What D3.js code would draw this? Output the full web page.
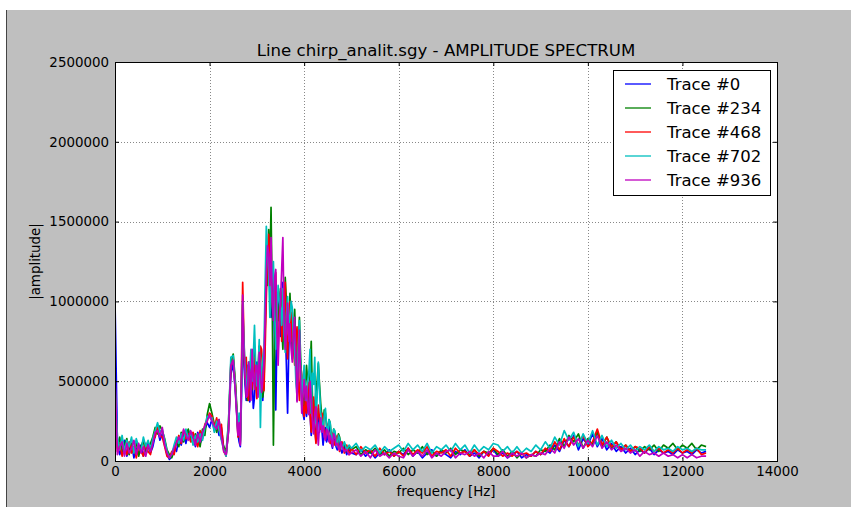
<!DOCTYPE html>
<html>
<head>
<meta charset="utf-8">
<script src="https://cdn.jsdelivr.net/npm/d3@7"></script>
<style>
  body { margin: 0; background: #fff; }
  svg { display: block; font-family: 'DejaVu Sans', sans-serif; }
</style>
</head>
<body>
<script>
// sampling grid of the spectrum, Hz (finer around the main peak)
const freq = [
  0, 50, 100, 150, 200, 250, 300, 350, 400, 450, 500, 550, 600, 650, 700, 750, 800, 850, 900, 950, 1000,
  1050, 1100, 1150, 1200, 1250, 1300, 1350, 1400, 1450, 1500, 1550, 1600, 1650, 1700, 1750, 1800, 1850, 1900, 1950, 2000,
  2050, 2100, 2150, 2200, 2250, 2300, 2350, 2400, 2450, 2500, 2550,
  2600, 2625, 2650, 2675, 2700, 2725, 2750, 2775, 2800, 2825,
  2850, 2875, 2900, 2925, 2950, 2975, 3000, 3025, 3050, 3075,
  3100, 3125, 3150, 3175, 3200, 3225, 3250, 3275, 3300, 3325,
  3350, 3375, 3400, 3425, 3450, 3475, 3500, 3525, 3550, 3575,
  3600, 3625, 3650, 3675, 3700, 3725, 3750, 3775, 3800, 3825,
  3850, 3875, 3900, 3925, 3950, 3975, 4000, 4025, 4050, 4075,
  4100, 4125, 4150, 4175, 4200, 4225, 4250, 4275, 4300, 4325,
  4350, 4375, 4400, 4425, 4450, 4475, 4500, 4525, 4550, 4575,
  4600, 4625, 4650, 4675, 4700, 4725, 4750, 4775, 4800,
  4850, 4900, 4950, 5000,
  5100, 5200, 5300, 5400, 5500, 5600, 5700, 5800, 5900, 6000,
  6100, 6200, 6300, 6400, 6500, 6600, 6700, 6800, 6900, 7000,
  7100, 7200, 7300, 7400, 7500, 7600, 7700, 7800, 7900, 8000,
  8100, 8200, 8300, 8400, 8500, 8600, 8700, 8800, 8900, 9000,
  9100, 9200, 9300, 9400, 9500, 9600, 9700, 9800, 9900, 10000,
  10100, 10200, 10300, 10400, 10500, 10600, 10700, 10800, 10900, 11000,
  11100, 11200, 11300, 11400, 11500, 11600, 11700, 11800, 11900, 12000,
  12100, 12200, 12300, 12400, 12500
]

// amplitudes in thousands
const trace0 = [
  1000, 120, 40, 90, 130, 30, 70, 110, 20, 80, 40, 100, 30, 70, 120, 50, 90, 160, 200, 130, 170,
  110, 40, 10, 30, 90, 60, 140, 100, 170, 110, 190, 130, 160, 90, 180, 110, 150, 200, 240, 210,
  260, 190, 240, 160, 210, 80, 40, 180, 540, 610, 420,
  170, 120, 90, 400, 900, 620, 480, 380, 600, 450,
  370, 560, 520, 330, 400, 580, 620, 420, 650, 520,
  480, 380, 560, 820, 1100, 1250, 1380, 1050, 900, 1000,
  1150, 700, 320, 800, 1050, 900, 780, 950, 1120, 1000,
  870, 600, 300, 700, 980, 800, 640, 850, 900, 600,
  380, 650, 810, 560, 420, 300, 260, 420, 280, 350,
  470, 300, 160, 250, 380, 220, 120, 240, 330, 180,
  260, 200, 100, 170, 210, 120, 150, 220, 190, 110,
  80, 150, 140, 90, 70, 130, 110, 70, 50,
  90, 40, 70, 50,
  40, 70, 30, 60, 20, 50, 40, 70, 30, 60,
  40, 80, 30, 60, 20, 50, 70, 30, 60, 40,
  20, 60, 40, 70, 30, 50, 20, 60, 40, 70,
  30, 50, 20, 40, 60, 20, 40, 30, 60, 40,
  70, 50, 100, 60, 130, 90, 160, 70, 140, 100,
  170, 90, 140, 70, 110, 60, 90, 50, 80, 40,
  70, 50, 80, 40, 70, 50, 60, 40, 70, 50,
  60, 40, 70, 50, 60
]
const trace234 = [
  450, 80, 150, 50, 100, 140, 40, 110, 60, 120, 30, 90, 130, 40, 80, 110, 150, 210, 170, 220, 190,
  140, 70, 40, 20, 60, 130, 90, 180, 120, 160, 200, 140, 110, 170, 120, 90, 200, 160, 290, 360,
  300, 230, 180, 260, 140, 90, 60, 240, 610, 670, 480,
  200, 150, 130, 500, 980, 700, 560, 420, 380, 500,
  620, 480, 450, 600, 700, 520, 420, 580, 720, 600,
  520, 400, 460, 900, 1250, 1100, 1450, 1200, 1590, 1000,
  100, 700, 1100, 950, 880, 1000, 1080, 850, 700, 900,
  1150, 1000, 920, 780, 1050, 850, 700, 820, 950, 700,
  420, 700, 900, 650, 480, 400, 320, 450, 600, 500,
  330, 550, 750, 400, 220, 350, 440, 500, 610, 480,
  360, 280, 210, 320, 300, 220, 190, 260, 240, 150,
  120, 200, 180, 130, 100, 170, 150, 110, 90,
  110, 60, 90, 70,
  90, 40, 70, 50, 80, 40, 70, 30, 60, 50,
  80, 40, 70, 50, 90, 40, 60, 30, 70, 50,
  80, 40, 70, 60, 40, 70, 30, 60, 50, 80,
  40, 70, 30, 60, 20, 50, 20, 40, 30, 70,
  60, 100, 70, 140, 90, 160, 120, 170, 80, 140,
  100, 180, 90, 150, 80, 120, 70, 100, 60, 90,
  60, 90, 70, 100, 60, 100, 80, 110, 70, 100,
  80, 110, 70, 100, 90
]
const trace468 = [
  420, 60, 110, 30, 80, 40, 120, 50, 90, 20, 100, 60, 30, 110, 60, 40, 130, 150, 220, 160, 150,
  90, 30, 20, 60, 40, 120, 160, 110, 190, 140, 170, 120, 180, 130, 90, 190, 140, 230, 260, 300,
  280, 210, 270, 190, 230, 60, 30, 200, 590, 640, 460,
  150, 280, 110, 600, 1120, 800, 520, 650, 430, 380,
  570, 420, 480, 560, 650, 500, 390, 520, 560, 720,
  700, 520, 440, 700, 1020, 1300, 1420, 1250, 1150, 1000,
  900, 1050, 1180, 850, 700, 900, 1060, 750, 880, 1000,
  1120, 800, 640, 900, 1000, 750, 930, 700, 600, 750,
  840, 500, 380, 600, 540, 350, 280, 380, 300, 420,
  490, 300, 180, 300, 400, 200, 110, 250, 350, 260,
  200, 300, 280, 180, 140, 200, 230, 150, 110, 180,
  170, 120, 100, 140, 160, 90, 60, 100, 120,
  50, 100, 40, 80,
  40, 90, 50, 70, 30, 80, 40, 60, 30, 60,
  30, 80, 40, 70, 50, 90, 30, 60, 50, 70,
  30, 80, 50, 60, 30, 70, 40, 60, 30, 80,
  60, 30, 50, 30, 60, 40, 50, 30, 60, 40,
  80, 60, 120, 70, 140, 90, 150, 100, 160, 90,
  120, 200, 100, 150, 90, 120, 70, 100, 60, 90,
  80, 50, 90, 60, 80, 50, 70, 50, 80, 50,
  70, 50, 80, 40, 50
]
const trace702 = [
  480, 150, 70, 160, 60, 130, 90, 150, 50, 140, 90, 60, 150, 90, 130, 70, 140, 190, 240, 180, 200,
  130, 60, 20, 40, 100, 150, 110, 170, 130, 200, 140, 180, 100, 160, 120, 170, 130, 210, 280, 270,
  270, 180, 250, 200, 130, 70, 30, 230, 650, 660, 440,
  190, 300, 120, 450, 1000, 750, 600, 500, 450, 620,
  560, 700, 500, 650, 850, 600, 470, 550, 760, 210,
  550, 650, 700, 1100, 1470, 1300, 1200, 900, 1060, 1150,
  1250, 950, 700, 900, 1100, 1000, 960, 850, 1080, 800,
  680, 900, 1030, 850, 900, 1000, 960, 750, 700, 500,
  440, 700, 880, 600, 350, 500, 600, 450, 380, 500,
  560, 700, 300, 550, 480, 650, 240, 400, 620, 450,
  300, 250, 180, 280, 330, 220, 170, 260, 240, 150,
  110, 200, 190, 120, 90, 160, 140, 100, 80,
  120, 70, 100, 80,
  110, 60, 90, 70, 100, 50, 90, 60, 80, 100,
  60, 110, 70, 100, 60, 110, 50, 90, 70, 100,
  60, 110, 70, 100, 50, 100, 60, 90, 70, 110,
  100, 60, 90, 50, 90, 50, 80, 60, 100, 70,
  120, 80, 150, 100, 190, 130, 180, 90, 170, 110,
  190, 100, 160, 90, 130, 80, 110, 70, 100, 60,
  90, 70, 100, 60, 90, 70, 80, 60, 90, 70,
  80, 60, 80, 70, 70
]
const trace936 = [
  550, 40, 90, 120, 30, 110, 50, 80, 130, 40, 110, 50, 90, 30, 100, 60, 110, 180, 190, 150, 210,
  100, 50, 20, 40, 80, 110, 150, 120, 200, 160, 130, 190, 150, 100, 170, 120, 180, 220, 250, 290,
  250, 220, 200, 260, 150, 60, 40, 190, 600, 630, 410,
  160, 240, 100, 500, 1040, 700, 540, 400, 410, 620,
  560, 380, 700, 520, 450, 600, 600, 400, 680, 550,
  430, 500, 620, 900, 1180, 1350, 1300, 1100, 1400, 1000,
  880, 1150, 1200, 800, 600, 850, 1000, 1200, 1400, 900,
  700, 800, 990, 750, 860, 700, 620, 800, 900, 650,
  370, 600, 820, 500, 300, 420, 510, 380, 470, 350,
  290, 500, 390, 250, 170, 300, 340, 200, 100, 220,
  270, 180, 220, 150, 130, 200, 190, 120, 160, 130,
  90, 170, 150, 100, 110, 80, 70, 120, 90,
  60, 70, 40, 50,
  70, 30, 60, 20, 70, 30, 50, 20, 50, 30,
  20, 70, 30, 60, 30, 70, 20, 50, 30, 60,
  70, 20, 50, 40, 60, 30, 50, 20, 60, 30,
  30, 60, 20, 50, 30, 50, 20, 40, 30, 50,
  40, 80, 50, 120, 80, 150, 100, 140, 80, 130,
  90, 160, 80, 120, 70, 100, 60, 80, 50, 70,
  30, 60, 40, 50, 30, 50, 30, 40, 20, 40,
  20, 40, 20, 30, 30
]

const traceNames = ['Trace #0', 'Trace #234', 'Trace #468', 'Trace #702', 'Trace #936']
const traceColors = ['#0000ff', '#008000', '#ff0000', '#00bfbf', '#bf00bf']
const xTicks = [0, 2000, 4000, 6000, 8000, 10000, 12000, 14000]
const yTicks = [0, 500000, 1000000, 1500000, 2000000, 2500000]

const W = 851, H = 507
const plot = { left: 115, top: 62, right: 777, bottom: 461 }

const svg = d3.select('body').append('svg')
    .attr('width', W)
    .attr('height', H)

// figure background
svg.append('rect')
    .attr('x', 7).attr('y', 10)
    .attr('width', W - 7).attr('height', H - 10)
    .attr('fill', '#bfbfbf')
svg.append('line')
    .attr('x1', 6.5).attr('x2', 6.5)
    .attr('y1', 10).attr('y2', H)
    .attr('stroke', '#444')

const x = d3.scaleLinear().domain([0, 14000]).range([plot.left, plot.right])
const y = d3.scaleLinear().domain([0, 2500000]).range([plot.bottom, plot.top])

svg.append('rect')
    .attr('x', plot.left).attr('y', plot.top)
    .attr('width', plot.right - plot.left)
    .attr('height', plot.bottom - plot.top)
    .attr('fill', '#fff')

// grid
const grid = svg.append('g')
    .attr('stroke', '#555')
    .attr('stroke-width', 0.7)
    .attr('stroke-dasharray', '1,2')
grid.selectAll('.vx')
    .data(xTicks.slice(1, -1))
    .enter().append('line')
    .attr('x1', d => Math.round(x(d)) + 0.5)
    .attr('x2', d => Math.round(x(d)) + 0.5)
    .attr('y1', plot.top).attr('y2', plot.bottom)
grid.selectAll('.hy')
    .data(yTicks.slice(1, -1))
    .enter().append('line')
    .attr('y1', d => Math.round(y(d)) + 0.5)
    .attr('y2', d => Math.round(y(d)) + 0.5)
    .attr('x1', plot.left).attr('x2', plot.right)

// traces
const traces = [trace0, trace234, trace468, trace702, trace936]
const line = d3.line()
    .x((d, i) => x(freq[i]))
    .y(d => y(d * 1000))

svg.append('clipPath').attr('id', 'clip')
    .append('rect')
    .attr('x', plot.left).attr('y', plot.top)
    .attr('width', plot.right - plot.left)
    .attr('height', plot.bottom - plot.top)

svg.append('g')
    .attr('clip-path', 'url(#clip)')
    .selectAll('path')
    .data(traces)
    .enter().append('path')
    .attr('d', d => line(d))
    .attr('fill', 'none')
    .attr('stroke', (d, i) => traceColors[i])
    .attr('stroke-width', 1.7)
    .attr('stroke-linejoin', 'round')

// axes, ticks pointing inwards like matplotlib classic
function styleAxis(g) {
    g.select('.domain').remove()
    g.selectAll('text')
        .attr('font-family', 'DejaVu Sans')
        .attr('font-size', 13.4)
        .attr('fill', '#000')
    g.selectAll('.tick line').attr('stroke', '#000')
}

svg.append('g')
    .attr('transform', 'translate(0,' + plot.bottom + ')')
    .call(d3.axisBottom(x).tickValues(xTicks).tickFormat(d3.format('d'))
        .tickSizeInner(-4).tickSizeOuter(0).tickPadding(5))
    .call(styleAxis)
svg.append('g')
    .attr('transform', 'translate(0,' + plot.top + ')')
    .call(d3.axisTop(x).tickValues(xTicks).tickFormat('')
        .tickSizeInner(-4).tickSizeOuter(0))
    .call(styleAxis)
svg.append('g')
    .attr('transform', 'translate(' + plot.left + ',0)')
    .call(d3.axisLeft(y).tickValues(yTicks).tickFormat(d3.format('d'))
        .tickSizeInner(-4).tickSizeOuter(0).tickPadding(6))
    .call(styleAxis)
svg.append('g')
    .attr('transform', 'translate(' + plot.right + ',0)')
    .call(d3.axisRight(y).tickValues(yTicks).tickFormat('')
        .tickSizeInner(-4).tickSizeOuter(0))
    .call(styleAxis)

// frame
svg.append('rect')
    .attr('x', plot.left + 0.5).attr('y', plot.top + 0.5)
    .attr('width', plot.right - plot.left)
    .attr('height', plot.bottom - plot.top)
    .attr('fill', 'none')
    .attr('stroke', '#000')

// labels
svg.append('text')
    .attr('x', (plot.left + plot.right) / 2)
    .attr('y', 56)
    .attr('text-anchor', 'middle')
    .attr('font-size', 16.6)
    .text('Line chirp_analit.sgy - AMPLITUDE SPECTRUM')
svg.append('text')
    .attr('x', (plot.left + plot.right) / 2)
    .attr('y', 496)
    .attr('text-anchor', 'middle')
    .attr('font-size', 13.4)
    .text('frequency [Hz]')
svg.append('text')
    .attr('transform', 'translate(40,' + ((plot.top + plot.bottom) / 2) + ') rotate(-90)')
    .attr('text-anchor', 'middle')
    .attr('font-size', 13.4)
    .text('|amplitude|')

// legend
const legend = svg.append('g')
legend.append('rect')
    .attr('x', 613.5).attr('y', 70.5)
    .attr('width', 157).attr('height', 125)
    .attr('fill', '#fff')
    .attr('stroke', '#000')
const items = legend.selectAll('.item')
    .data(traceNames)
    .enter().append('g')
    .attr('transform', (d, i) => 'translate(0,' + (84 + i * 24) + ')')
items.append('line')
    .attr('x1', 625).attr('x2', 651)
    .attr('stroke', (d, i) => traceColors[i])
    .attr('stroke-width', 1.3)
items.append('text')
    .attr('x', 667)
    .attr('dy', '0.36em')
    .attr('font-size', 16.5)
    .text(d => d)
</script>
</body>
</html>
